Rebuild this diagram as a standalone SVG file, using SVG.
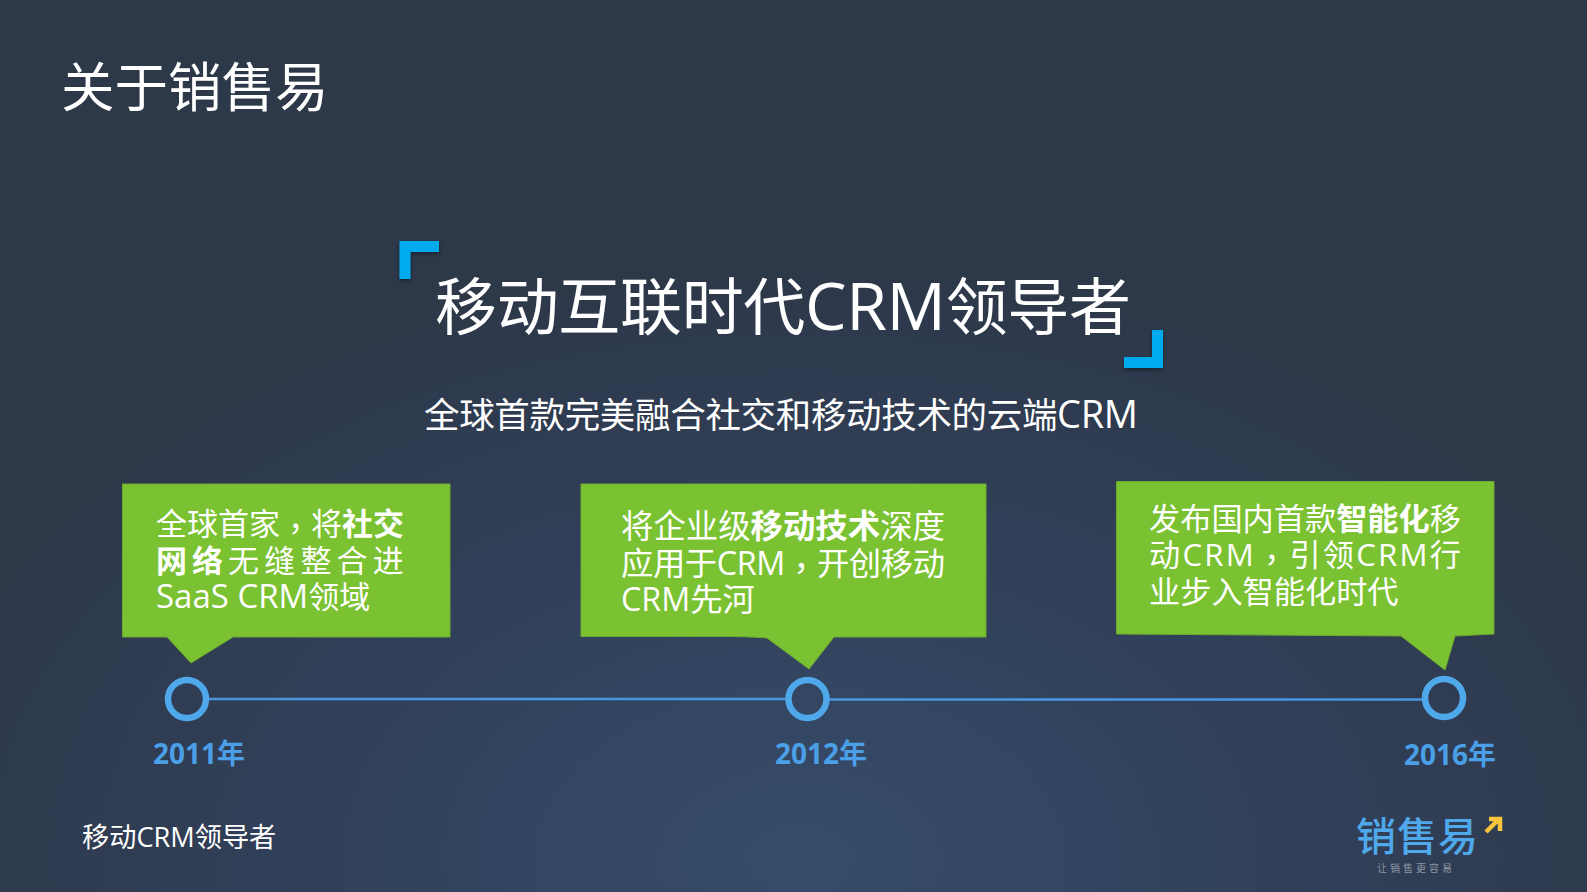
<svg xmlns="http://www.w3.org/2000/svg" width="1587" height="892" viewBox="0 0 1587 892">
<style>
text{font-family:"Open Sans","Noto Sans CJK SC",sans-serif;fill:#fff;font-weight:400}
.b{font-weight:700}
.c{font-family:"Noto Sans CJK TC",sans-serif}
.box{fill:#7ac232;stroke:#6cab2f;stroke-width:1}
.ring{fill:none;stroke:#4fa8ea;stroke-width:6.5}
.yr{font-size:28px;font-weight:700;fill:#4a9fe6}
.brk{fill:#00aaee}
.bl1{font-size:31px}
</style>
<defs>
<radialGradient id="bg" gradientUnits="userSpaceOnUse" cx="800" cy="860" r="900" gradientTransform="translate(0 300) scale(1 .65)">
<stop offset="0" stop-color="#364c6a"/><stop offset=".55" stop-color="#31405a"/><stop offset="1" stop-color="#2d3849"/>
</radialGradient>
<filter id="sh" x="-20%" y="-20%" width="140%" height="140%"><feDropShadow dx="0" dy="2" stdDeviation="2" flood-color="#000" flood-opacity=".4"/></filter>
</defs>
<rect id="background" width="1587" height="892" fill="url(#bg)"/>
<g id="title"><text x="61" y="107" font-size="53.5">关于销售易</text></g>
<g id="headline">
<path class="brk" filter="url(#sh)" d="M399.5 241H439V252H410.5V279H399.5Z"/>
<path class="brk" filter="url(#sh)" d="M1163 330V368H1124V357H1152V330Z"/>
<text x="435" y="330" font-size="62" textLength="696" lengthAdjust="spacing">移动互联时代<tspan font-size="66">CRM</tspan>领导者</text>
<text x="424" y="428" font-size="35.5" textLength="714" lengthAdjust="spacing">全球首款完美融合社交和移动技术的云端<tspan font-size="38">CRM</tspan></text>
</g>
<g id="connectors">
<path d="M209 699H786" stroke="#4a96e0" stroke-width="2.6" fill="none"/>
<path d="M829 699.5H1423" stroke="#4a96e0" stroke-width="2.6" fill="none"/>
</g>
<g id="node-2011">
<path class="box" d="M122.500 484H450V637H233L191 663L167 637H122.500Z"/>
<text class="bl1" x="156" y="535">全球首家<tspan class="c" dy="5">，</tspan><tspan dy="-5">将</tspan><tspan class="b">社交</tspan></text>
<text class="bl1" x="156" y="572"><tspan class="b" letter-spacing="5">网络</tspan></text>
<text class="bl1" x="228" y="572" letter-spacing="5.2">无缝整合进</text>
<text class="bl1" x="156" y="608"><tspan font-size="33">SaaS CRM</tspan>领域</text>
<circle class="ring" cx="187" cy="699" r="19"/>
<text class="yr" x="153" y="764">2011年</text>
</g>
<g id="node-2012">
<path class="box" d="M581 484H986V637H834L809 669L767 638Q745 636 700 636.500H581Z"/>
<text x="621" y="538" font-size="32.4">将企业级<tspan class="b">移动技术</tspan>深度</text>
<text x="621" y="575" font-size="32.3" textLength="324" lengthAdjust="spacing">应用于CRM<tspan class="c" dy="5">，</tspan><tspan dy="-5">开创移动</tspan></text>
<text x="621" y="611" font-size="32.3">CRM先河</text>
<circle class="ring" cx="807.500" cy="699" r="19"/>
<text class="yr" x="775" y="764">2012年</text>
</g>
<g id="node-2016">
<path class="box" d="M1116.500 481.500H1494V634L1455 636L1445 670L1401 636L1116.500 634Z"/>
<text x="1149" y="530" font-size="31.2">发布国内首款<tspan class="b">智能化</tspan>移</text>
<text x="1149" y="566" font-size="31.2" textLength="312" lengthAdjust="spacing">动CRM<tspan class="c" dy="5">，</tspan><tspan dy="-5">引领CRM行</tspan></text>
<text x="1149" y="603" font-size="31.2">业步入智能化时代</text>
<circle class="ring" cx="1444" cy="698" r="19"/>
<text class="yr" x="1404" y="765">2016年</text>
</g>
<g id="footer"><text x="82" y="847" font-size="27.2">移动CRM领导者</text></g>
<g id="logo">
<text x="1356" y="851" font-size="40" letter-spacing="1" style="fill:#4fa8ea;font-weight:500">销售易</text>
<text x="1377" y="872" font-size="10" letter-spacing="3" style="fill:#8d97a5">让销售更容易</text>
<path d="M1486 832L1498 820M1489 819H1500V831" fill="none" stroke="#f7c53c" stroke-width="4.500"/>
</g>
</svg>
